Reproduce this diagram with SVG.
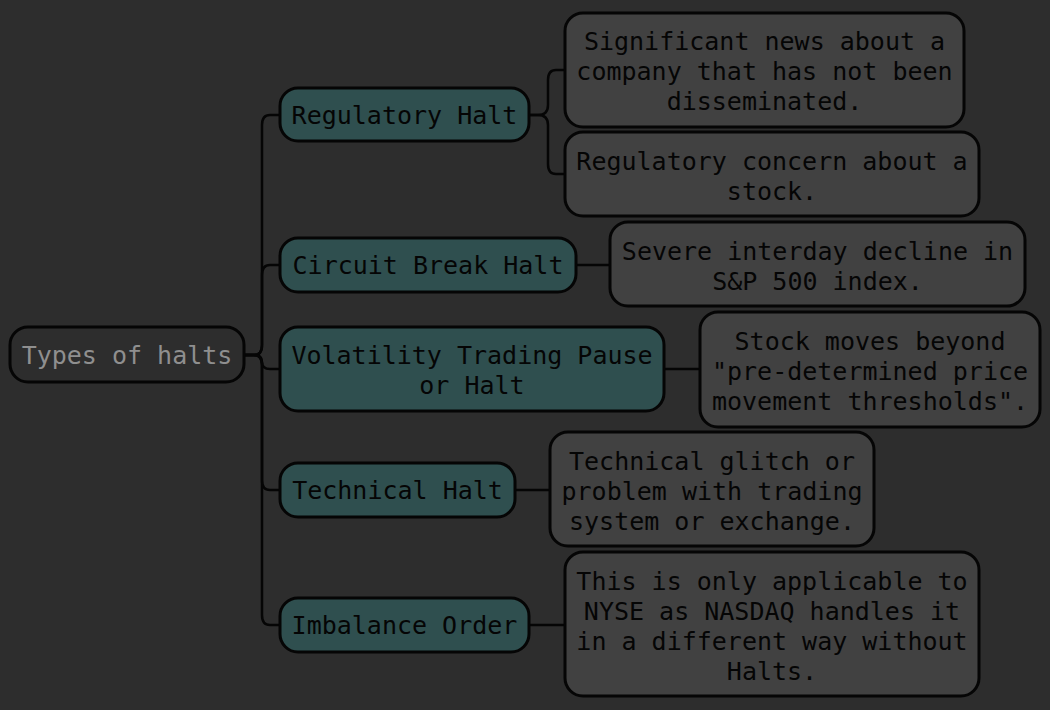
<svg xmlns="http://www.w3.org/2000/svg" width="1050" height="710" viewBox="0 0 1050 710">
<style>
.bg{fill:#2d2d2d}
rect.root{fill:#2d2d2d;stroke:#050505;stroke-width:3}
rect.branch{fill:#2f4f4f;stroke:#050505;stroke-width:3}
rect.leaf{fill:#414141;stroke:#050505;stroke-width:3}
text{font-family:"DejaVu Sans Mono","Liberation Mono",monospace;font-size:25px;text-anchor:middle;fill:#050505}
text.rt{fill:#8f8f8f}
#connectors path{fill:none;stroke:#050505;stroke-width:2.5}
</style>
<rect class="bg" x="0" y="0" width="1050" height="710"/>
<g id="connectors">
<path d="M244,355 H254 Q262,355 262,345 V125 Q262,115 270,115 H280"/>
<path d="M244,355 H254 Q262,355 262,345 V275 Q262,265 270,265 H280"/>
<path d="M244,355 H254 Q262,355 262,362 Q262,369 270,369 H280"/>
<path d="M244,355 H254 Q262,355 262,365 V480 Q262,490 270,490 H280"/>
<path d="M244,355 H254 Q262,355 262,365 V615 Q262,625 270,625 H280"/>
<path d="M529,115 H538 Q548,115 548,105 V80 Q548,70 556,70 H565"/>
<path d="M529,115 H538 Q548,115 548,125 V164 Q548,174 556,174 H565"/>
<path d="M576,265 H610"/>
<path d="M664,369 H700"/>
<path d="M515,490 H550"/>
<path d="M529,625 H565"/>
</g>
<g id="root">
<rect class="root" x="10" y="327" width="234" height="55" rx="18"/>
<text class="rt" x="127" y="364">Types of halts</text>
</g>
<g id="regulatory">
<rect class="branch" x="280" y="88" width="249" height="53" rx="18"/>
<text x="404.5" y="124">Regulatory Halt</text>
</g>
<g id="circuit">
<rect class="branch" x="280" y="238" width="296" height="54" rx="18"/>
<text x="428" y="274">Circuit Break Halt</text>
</g>
<g id="volatility">
<rect class="branch" x="280" y="327" width="384" height="84" rx="18"/>
<text x="472" y="364">Volatility Trading Pause</text>
<text x="472" y="394">or Halt</text>
</g>
<g id="technical">
<rect class="branch" x="280" y="463" width="235" height="54" rx="18"/>
<text x="397.5" y="499">Technical Halt</text>
</g>
<g id="imbalance">
<rect class="branch" x="280" y="598" width="249" height="54" rx="18"/>
<text x="404.5" y="634">Imbalance Order</text>
</g>
<g id="leaf-news">
<rect class="leaf" x="565" y="13" width="399" height="114" rx="18"/>
<text x="764.5" y="50">Significant news about a</text>
<text x="764.5" y="80">company that has not been</text>
<text x="764.5" y="110">disseminated.</text>
</g>
<g id="leaf-concern">
<rect class="leaf" x="565" y="132" width="414" height="84" rx="18"/>
<text x="772" y="170">Regulatory concern about a</text>
<text x="772" y="200">stock.</text>
</g>
<g id="leaf-sp">
<rect class="leaf" x="610" y="222" width="415" height="84" rx="18"/>
<text x="817.5" y="260">Severe interday decline in</text>
<text x="817.5" y="290">S&amp;P 500 index.</text>
</g>
<g id="leaf-stock">
<rect class="leaf" x="700" y="312" width="340" height="115" rx="18"/>
<text x="870" y="350">Stock moves beyond</text>
<text x="870" y="380">"pre-determined price</text>
<text x="870" y="410">movement thresholds".</text>
</g>
<g id="leaf-glitch">
<rect class="leaf" x="550" y="432" width="324" height="114" rx="18"/>
<text x="712" y="470">Technical glitch or</text>
<text x="712" y="500">problem with trading</text>
<text x="712" y="530">system or exchange.</text>
</g>
<g id="leaf-nyse">
<rect class="leaf" x="565" y="552" width="414" height="144" rx="18"/>
<text x="772" y="590">This is only applicable to</text>
<text x="772" y="620">NYSE as NASDAQ handles it</text>
<text x="772" y="650">in a different way without</text>
<text x="772" y="680">Halts.</text>
</g>
</svg>
